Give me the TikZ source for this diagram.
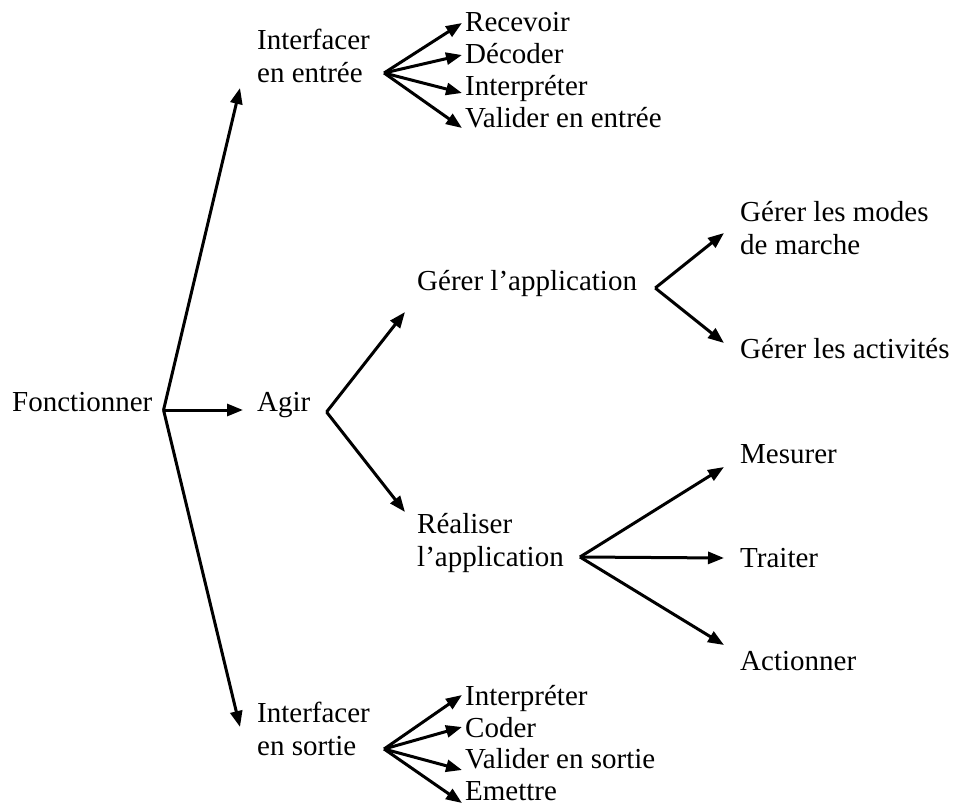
\documentclass[tikz,border=0pt]{standalone}
\usepackage{fontspec}
\setmainfont{Liberation Serif}
\usetikzlibrary{
  positioning,
  arrows.meta,
  calc
}

\begin{document}
\begin{tikzpicture}[
  x=1pt, y=-1pt,
  lbl/.style={inner sep=0pt, anchor=base west, font=\fontsize{29}{32.5}\selectfont},
  lbl2/.style={lbl, anchor=west, align=left},
  arr/.style={-{Triangle[length=16pt, width=12pt]}, line width=3pt, black},
]
  \useasboundingbox (0,0) rectangle (957,810);

  % Root and first level
  \node[lbl] (fonc) at (12, 411) {Fonctionner};
  \node[lbl2] (ient) at (257, 56) {Interfacer\\en entrée};
  \node[lbl] (agir) at (257, 411) {Agir};
  \node[lbl2] (isor) at (257, 729) {Interfacer\\en sortie};

  % Input interface
  \node[lbl] (rec) at (465, 32) {Recevoir};
  \node[lbl] (dec) at (465, 64) {Décoder};
  \node[lbl] (intin) at (465, 96) {Interpréter};
  \node[lbl] (valin) at (465, 128) {Valider en entrée};

  % Acting
  \node[lbl] (gapp) at (417, 290) {Gérer l’application};
  \node[lbl2] (rapp) at (417, 543) {Réaliser\\l’application};
  \node[lbl2] (modes) at (740, 228) {Gérer les modes\\de marche};
  \node[lbl] (activ) at (740, 358) {Gérer les activités};
  \node[lbl] (mes) at (740, 463) {Mesurer};
  \node[lbl] (trait) at (740, 567) {Traiter};
  \node[lbl] (act) at (740, 670) {Actionner};

  % Output interface
  \node[lbl] (intout) at (465, 705) {Interpréter};
  \node[lbl] (cod) at (465, 737) {Coder};
  \node[lbl] (valout) at (465, 768) {Valider en sortie};
  \node[lbl] (emet) at (465, 800) {Emettre};

  % Fan points
  \coordinate (fonc-fan) at ($(fonc.base east)+(11,-1)$);
  \coordinate (ient-fan) at ($(ient.east)+(14,17)$);
  \coordinate (agir-fan) at ($(agir.base east)+(16,1)$);
  \coordinate (isor-fan) at ($(isor.east)+(14,20)$);
  \coordinate (gapp-fan) at ($(gapp.base east)+(18,-2)$);
  \coordinate (rapp-fan) at ($(rapp.east)+(16,14)$);

  \draw[arr] (fonc-fan) -- ($(ient.west)+(-17,32)$);
  \draw[arr] (fonc-fan) -- ($(agir.base west)+(-14,-1)$);
  \draw[arr] (fonc-fan) -- ($(isor.west)+(-17,-2)$);

  \draw[arr] (ient-fan) -- ($(rec.base west)+(-3,-9)$);
  \draw[arr] (ient-fan) -- ($(dec.base west)+(-3,-9)$);
  \draw[arr] (ient-fan) -- ($(intin.base west)+(-3,-3)$);
  \draw[arr] (ient-fan) -- ($(valin.base west)+(-3,0)$);

  \draw[arr] (agir-fan) -- ($(gapp.base west)+(-12,22)$);
  \draw[arr] (agir-fan) -- ($(rapp.west)+(-12,-31)$);

  \draw[arr] (gapp-fan) -- ($(modes.west)+(-16,5)$);
  \draw[arr] (gapp-fan) -- ($(activ.base west)+(-16,-15)$);

  \draw[arr] (rapp-fan) -- ($(mes.base west)+(-16,4)$);
  \draw[arr] (rapp-fan) -- ($(trait.base west)+(-16,-9)$);
  \draw[arr] (rapp-fan) -- ($(act.base west)+(-16,-25)$);

  \draw[arr] (isor-fan) -- ($(intout.base west)+(-3,-10)$);
  \draw[arr] (isor-fan) -- ($(cod.base west)+(-3,-10)$);
  \draw[arr] (isor-fan) -- ($(valout.base west)+(-3,2)$);
  \draw[arr] (isor-fan) -- ($(emet.base west)+(-3,3)$);

\end{tikzpicture}
\end{document}
